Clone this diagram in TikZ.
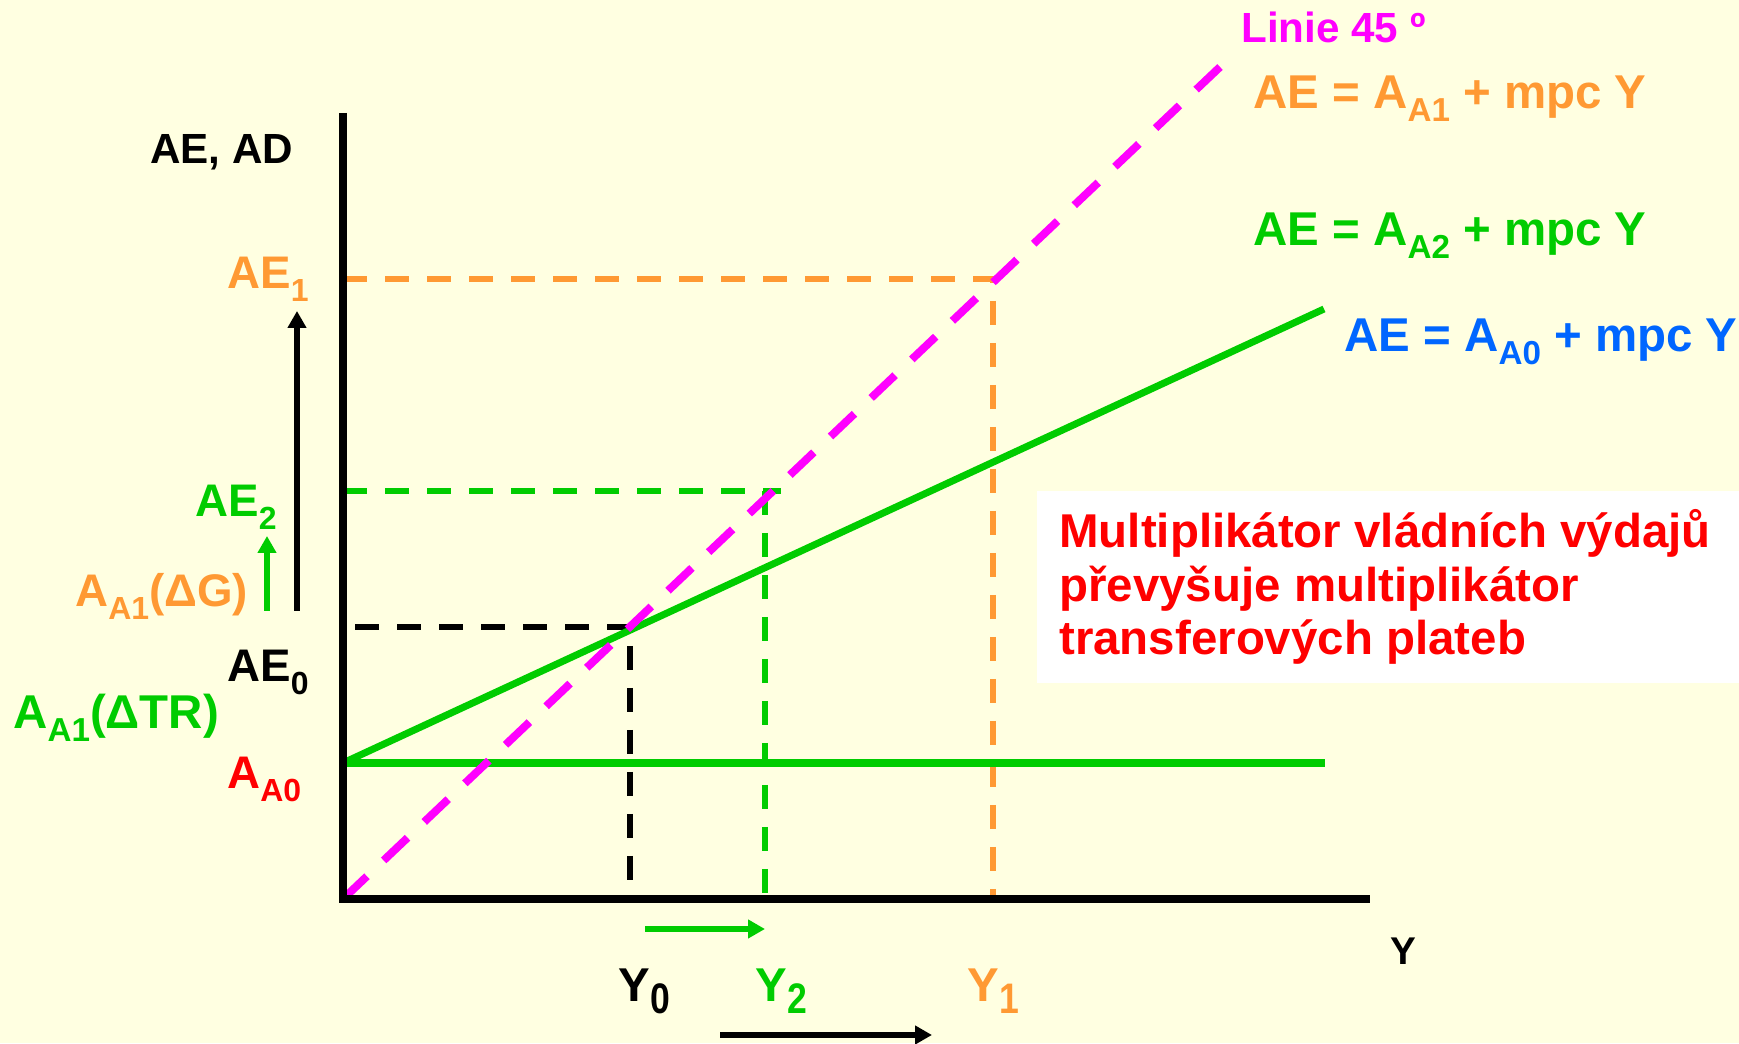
\documentclass[tikz,border=0pt]{standalone}
\usepackage{fontspec}
\setmainfont{Liberation Sans}
\usepackage{graphicx}
\usepackage{xcolor}
\usetikzlibrary{
  arrows.meta,
  positioning
}
\definecolor{paper}{RGB}{255,255,225}
\definecolor{aeorange}{RGB}{255,153,51}
\definecolor{aegreen}{RGB}{0,204,0}
\definecolor{aemagenta}{RGB}{255,0,255}
\definecolor{aeblue}{RGB}{0,102,255}
\definecolor{aered}{RGB}{255,0,0}
\newcommand{\lowsub}[1]{\raisebox{-0.27em}{\scalebox{0.7}{#1}}}
\newcommand{\ysub}[1]{\raisebox{-0.25em}{\scalebox{0.75}[0.9]{#1}}}

\begin{document}
\begin{tikzpicture}[
  lbl/.style={font=\fontsize{26}{30}\selectfont\bfseries, inner sep=0pt, anchor=base west},
  eqn/.style={font=\fontsize{27}{32}\selectfont\bfseries, inner sep=0pt, anchor=base west},
  axis/.style={line width=4.5pt},
  guide/.style={line width=3pt, dash pattern=on 0.48cm off 0.36cm},
  curve/.style={line width=4pt, aegreen},
  shiftarrow/.style={-{Triangle[length=3.4mm,width=3.6mm]}, line width=3.4pt}
]
  % Background and size
  \fill[paper] (-6.86,-2.88) rectangle (27.92,17.98);

  % Key points
  \coordinate (O) at (0,0);
  \coordinate (yTop) at (0,15.72);
  \coordinate (xEnd) at (20.54,0);
  \coordinate (m45) at (17.54,16.64);
  \coordinate (aStart) at (0,2.72);
  \coordinate (aeEnd) at (19.62,11.8);
  \coordinate (aFlat) at (19.64,2.72);
  \coordinate (E0) at (5.74,5.44);
  \coordinate (E2) at (8.44,8.16);
  \coordinate (E1) at (13.0,12.4);

  % Guide lines
  \draw[guide, black] ([xshift=0.24cm]E0 -| O) -- (E0) -- (E0 |- O);
  \draw[guide, aegreen] (E2 -| O) -- ([xshift=0.32cm]E2);
  \draw[guide, aegreen] (E2) -- (E2 |- O);
  \draw[guide, aeorange] (E1 -| O) -- (E1) -- (E1 |- O);

  % Expenditure lines
  \draw[curve] (aStart) -- (aFlat);
  \draw[curve] (aStart) -- (aeEnd);
  \draw[line width=4.5pt, aemagenta, dash pattern=on 0.66cm off 0.46cm] (O) -- (m45);

  % Axes
  \draw[axis] (yTop) -- (O) -- (xEnd);

  % Shift arrows
  \coordinate (vBase) at (-0.92,5.76);
  \coordinate (vTip) at (-0.92,11.76);
  \coordinate (gBase) at (-1.52,5.76);
  \coordinate (gTip) at (-1.52,7.26);
  \coordinate (hBase) at (6.04,-0.6);
  \coordinate (hTip) at (8.44,-0.6);
  \coordinate (kBase) at (7.54,-2.72);
  \coordinate (kTip) at (11.78,-2.72);
  \draw[shiftarrow, black] (vBase) -- (vTip);
  \draw[shiftarrow, aegreen] (gBase) -- (gTip);
  \draw[shiftarrow, aegreen] (hBase) -- (hTip);
  \draw[shiftarrow, black] (kBase) -- (kTip);

  % Axis labels
  \node[lbl, font=\fontsize{24}{28}\selectfont\bfseries] (yLab) at (-3.86,14.7) {AE, AD};
  \node[lbl, font=\fontsize{22}{26}\selectfont\bfseries] (xLab) at (20.94,-1.32) {Y};

  % Left labels
  \node[lbl, text=aeorange] (ae1) at (-2.32,12.2) {AE\lowsub{1}};
  \node[lbl, text=aegreen] (ae2) at (-2.96,7.64) {AE\lowsub{2}};
  \node[lbl, text=aeorange] (dG) at (-5.36,5.84) {A\lowsub{A1}(ΔG)};
  \node[lbl] (ae0) at (-2.32,4.34) {AE\lowsub{0}};
  \node[lbl, font=\fontsize{27}{30}\selectfont\bfseries, text=aegreen] (dTR) at (-6.6,3.4) {A\lowsub{A1}(ΔTR)};
  \node[lbl, text=aered] (aa0) at (-2.32,2.2) {A\lowsub{A0}};

  % Bottom labels
  \node[lbl, font=\fontsize{27}{30}\selectfont\bfseries] (y0) at (5.5,-2.06) {Y\ysub{0}};
  \node[lbl, font=\fontsize{27}{30}\selectfont\bfseries, text=aegreen] (y2) at (8.24,-2.06) {Y\ysub{2}};
  \node[lbl, font=\fontsize{27}{30}\selectfont\bfseries, text=aeorange] (y1) at (12.48,-2.06) {Y\ysub{1}};

  % Right labels
  \node[lbl, font=\fontsize{24}{28}\selectfont\bfseries, text=aemagenta] (line45) at (17.96,17.12) {Linie 45 º};
  \node[eqn, text=aeorange] (eq1) at (18.2,15.8) {AE = A\lowsub{A1} + mpc Y};
  \node[eqn, text=aegreen] (eq2) at (18.2,13.06) {AE = A\lowsub{A2} + mpc Y};
  \node[eqn, text=aeblue] (eq0) at (20.02,10.94) {AE = A\lowsub{A0} + mpc Y};

  % Note
  \fill[white] (13.88,4.32) rectangle (27.92,8.16);
  \node[font=\fontsize{27}{30.6}\selectfont\bfseries, text=aered, align=left,
        anchor=base west, inner sep=0pt] (note) at (14.32,4.88)
        {Multiplikátor vládních výdajů\\převyšuje multiplikátor\\transferových plateb};
\end{tikzpicture}
\end{document}
